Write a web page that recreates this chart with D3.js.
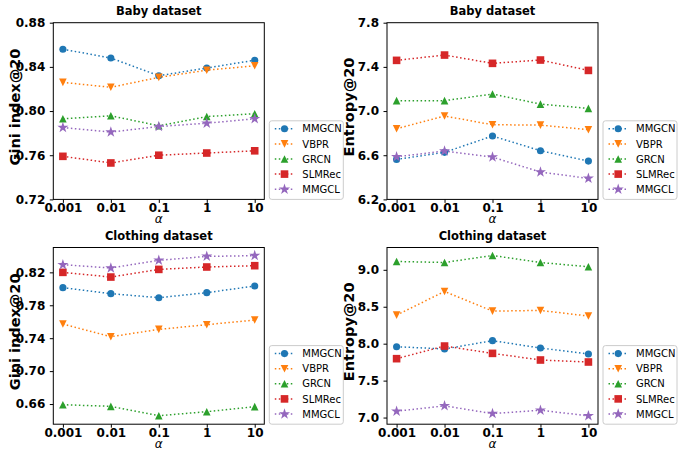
<!DOCTYPE html>
<html>
<head>
<meta charset="utf-8">
<script src="https://cdn.jsdelivr.net/npm/d3@7"></script>
<style>
  body { margin: 0; background: #fff; }
  text { font-family: "DejaVu Sans", sans-serif; }
</style>
</head>
<body>
<div id="chart"></div>
<script>
// x categories and series
const alphas = ["0.001", "0.01", "0.1", "1", "10"];
const methods = ["MMGCN", "VBPR", "GRCN", "SLMRec", "MMGCL"];
const colors = ["#1f77b4", "#ff7f0e", "#2ca02c", "#d62728", "#9467bd"];
const markers = ["circle", "triangleDown", "triangleUp", "square", "star"];

// values, one row per method (same order as methods)
const babyGini = [
    [0.856, 0.848, 0.832, 0.839, 0.846],
    [0.826, 0.8215, 0.8305, 0.837, 0.841],
    [0.793, 0.7957, 0.7867, 0.795, 0.7976],
    [0.759, 0.753, 0.760, 0.762, 0.764],
    [0.785, 0.781, 0.786, 0.789, 0.793]
];
const babyEntropy = [
    [6.562, 6.626, 6.774, 6.641, 6.547],
    [6.840, 6.955, 6.876, 6.873, 6.831],
    [7.094, 7.094, 7.154, 7.063, 7.024],
    [7.459, 7.507, 7.432, 7.462, 7.368],
    [6.586, 6.638, 6.583, 6.448, 6.390]
];
const clothingGini = [
    [0.8014, 0.7941, 0.7892, 0.7953, 0.8034],
    [0.7572, 0.7418, 0.7507, 0.7564, 0.7621],
    [0.6592, 0.6572, 0.6458, 0.6507, 0.6568],
    [0.8200, 0.8143, 0.8236, 0.8265, 0.8281],
    [0.8293, 0.8253, 0.8346, 0.8394, 0.8403]
];
const clothingEntropy = [
    [7.959, 7.928, 8.041, 7.941, 7.860],
    [8.387, 8.707, 8.441, 8.450, 8.374],
    [9.113, 9.099, 9.194, 9.099, 9.041],
    [7.797, 7.968, 7.869, 7.779, 7.752],
    [7.086, 7.158, 7.054, 7.099, 7.023]
];

// tick labels
const babyGiniTicks = [0.72, 0.76, 0.80, 0.84, 0.88];
const babyEntropyTicks = [6.2, 6.6, 7.0, 7.4, 7.8];
const clothingGiniTicks = [0.66, 0.70, 0.74, 0.78, 0.82];
const clothingEntropyTicks = [7.0, 7.5, 8.0, 8.5, 9.0];

const W = 678, H = 451;
const pw = 211, ph = 176.7;

const panels = [
    { title: "Baby dataset", ylabel: "Gini index@20", values: babyGini, ticks: babyGiniTicks,
      domain: [0.72, 0.88], fmt: ".2f", left: 53.3, top: 22.7 },
    { title: "Baby dataset", ylabel: "Entropy@20", values: babyEntropy, ticks: babyEntropyTicks,
      domain: [6.2, 7.8], fmt: ".1f", left: 387, top: 22.7 },
    { title: "Clothing dataset", ylabel: "Gini index@20", values: clothingGini, ticks: clothingGiniTicks,
      domain: [0.6355, 0.8502], fmt: ".2f", left: 53.3, top: 247.5 },
    { title: "Clothing dataset", ylabel: "Entropy@20", values: clothingEntropy, ticks: clothingEntropyTicks,
      domain: [6.91, 9.302], fmt: ".1f", left: 387, top: 247.5 }
];

const svg = d3.select("#chart")
    .append("svg")
    .attr("width", W)
    .attr("height", H);

// marker shapes, roughly matplotlib's o v ^ s *
function markerPath(type) {
    const h = 3.8;
    if (type === "circle") return d3.symbol(d3.symbolCircle, 40)();
    if (type === "square") return `M${-h},${-h}H${h}V${h}H${-h}Z`;
    if (type === "triangleUp") return `M0,${-h}L${h},${h}L${-h},${h}Z`;
    if (type === "triangleDown") return `M0,${h}L${h},${-h}L${-h},${-h}Z`;
    return d3.symbol(d3.symbolStar, 38)();
}

panels.forEach(p => {
    const g = svg.append("g").attr("transform", `translate(${p.left}, ${p.top})`);

    const x = d3.scalePoint().domain(alphas).range([0, pw]).padding(0.2);
    const y = d3.scaleLinear().domain(p.domain).range([ph, 0]);

    // y axis
    const yAxis = g.append("g")
        .call(d3.axisLeft(y).tickValues(p.ticks).tickFormat(d3.format(p.fmt)).tickSize(3.5).tickPadding(4.5));
    yAxis.select(".domain").remove();
    yAxis.selectAll("text")
        .style("font-size", "12px")
        .style("font-weight", "bold")
        .attr("fill", "#000");

    // x axis
    const xAxis = g.append("g")
        .attr("transform", `translate(0, ${ph})`)
        .call(d3.axisBottom(x).tickSize(3.5).tickPadding(0.5));
    xAxis.select(".domain").remove();
    xAxis.selectAll("text")
        .style("font-size", "12px")
        .style("font-weight", "bold")
        .attr("fill", "#000");

    // lines and markers
    const line = d3.line()
        .x((d, i) => x(alphas[i]))
        .y(d => y(d));

    p.values.forEach((vals, k) => {
        g.append("path")
            .datum(vals)
            .attr("fill", "none")
            .attr("stroke", colors[k])
            .attr("stroke-width", 1.5)
            .attr("stroke-dasharray", "1.5,2.5")
            .attr("d", line);

        g.selectAll(null)
            .data(vals)
            .enter()
            .append("path")
            .attr("transform", (d, i) => `translate(${x(alphas[i])}, ${y(d)})`)
            .attr("d", markerPath(markers[k]))
            .attr("fill", colors[k]);
    });

    // frame
    g.append("rect")
        .attr("width", pw)
        .attr("height", ph)
        .attr("fill", "none")
        .attr("stroke", "#000")
        .attr("stroke-width", 1);

    // title
    g.append("text")
        .attr("x", pw / 2)
        .attr("y", -7.5)
        .attr("text-anchor", "middle")
        .style("font-size", "11.5px")
        .style("font-weight", "bold")
        .text(p.title);

    // x label
    g.append("text")
        .attr("x", pw / 2)
        .attr("y", ph + 23.5)
        .attr("text-anchor", "middle")
        .style("font-size", "12px")
        .style("font-style", "italic")
        .text("α");

    // y label
    g.append("text")
        .attr("text-anchor", "middle")
        .attr("transform", `translate(${-33.5}, ${ph / 2 - 4}) rotate(-90)`)
        .style("font-size", "14.5px")
        .style("font-weight", "bold")
        .text(p.ylabel);

    // legend
    const lg = g.append("g").attr("transform", `translate(${pw + 5}, ${ph - 78.6})`);
    lg.append("rect")
        .attr("width", 74)
        .attr("height", 78.6)
        .attr("rx", 2.5)
        .attr("fill", "#fff")
        .attr("fill-opacity", 0.8)
        .attr("stroke", "#cccccc")
        .attr("stroke-width", 1);

    methods.forEach((m, k) => {
        const row = lg.append("g").attr("transform", `translate(0, ${8 + k * 15.1})`);
        row.append("line")
            .attr("x1", 5.5)
            .attr("x2", 25)
            .attr("stroke", colors[k])
            .attr("stroke-width", 1.5)
            .attr("stroke-dasharray", "1.5,2.5");
        row.append("path")
            .attr("transform", "translate(15.2, 0)")
            .attr("d", markerPath(markers[k]))
            .attr("fill", colors[k]);
        row.append("text")
            .attr("x", 33)
            .attr("y", 3.6)
            .style("font-size", "10px")
            .text(m);
    });
});
</script>
</body>
</html>
